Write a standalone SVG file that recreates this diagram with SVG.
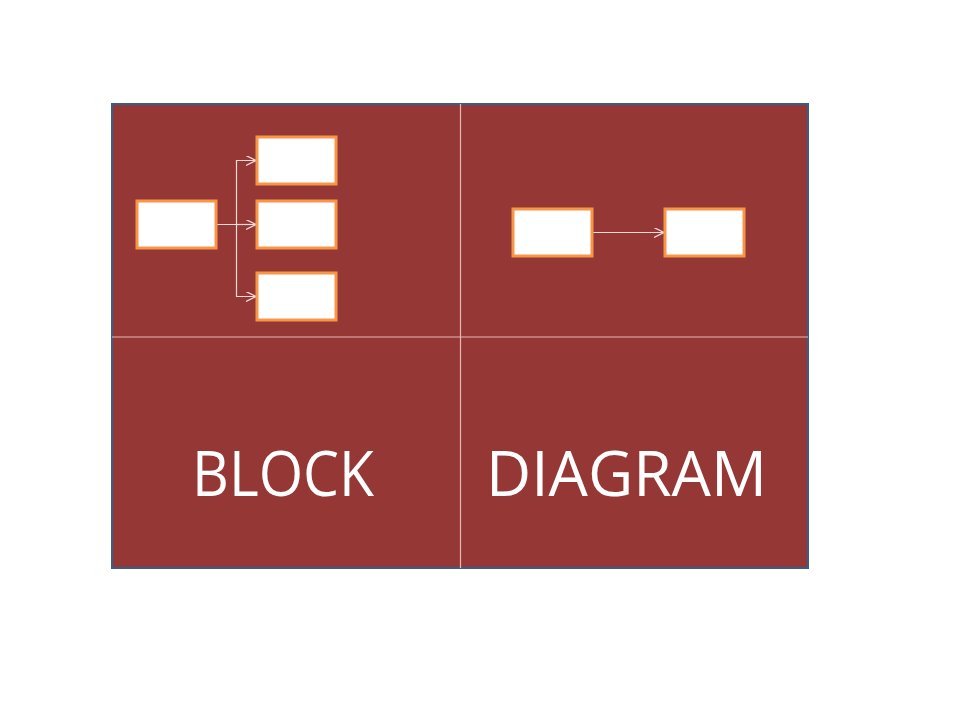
<svg xmlns="http://www.w3.org/2000/svg" width="960" height="720" viewBox="0 0 960 720">
<style>
.box{fill:#FFFFFF;stroke:#F79646;stroke-width:3}
.conn{fill:none;stroke:#F2DCDB;stroke-width:1.2}
.div{stroke:#E6B9B8;stroke-width:1.2}
.lbl{font-family:"Open Sans","Liberation Sans",sans-serif;font-size:63px;fill:#FFFFFF;text-anchor:middle}
</style>
<defs>
<marker id="arr" viewBox="0 0 10 10" refX="10" refY="5" markerWidth="10" markerHeight="10" markerUnits="userSpaceOnUse" orient="auto">
<path d="M0,0 L10,5 L0,10" fill="none" stroke="#F2DCDB" stroke-width="1.2"/>
</marker>
</defs>
<rect width="960" height="720" fill="#FFFFFF"/>
<g id="panel">
<rect x="112" y="104" width="696" height="464" fill="#953735" stroke="#385D8A" stroke-width="2"/>
<line class="div" x1="460.5" y1="104" x2="460.5" y2="568"/>
<line class="div" x1="112" y1="337" x2="808" y2="337"/>
</g>
<g id="connectors">
<path class="conn" d="M217,224.5 H236.5 V160.5 H256" marker-end="url(#arr)"/>
<path class="conn" d="M236.5,224.5 H256" marker-end="url(#arr)"/>
<path class="conn" d="M236.5,224.5 V296.5 H256" marker-end="url(#arr)"/>
<path class="conn" d="M593,232.5 H664" marker-end="url(#arr)"/>
</g>
<g id="n1"><rect class="box" x="137" y="201" width="79" height="47"/></g>
<g id="n2"><rect class="box" x="257" y="137" width="79" height="47"/></g>
<g id="n3"><rect class="box" x="257" y="201" width="79" height="47"/></g>
<g id="n4"><rect class="box" x="257" y="273" width="79" height="47"/></g>
<g id="n5"><rect class="box" x="513" y="209" width="79" height="47"/></g>
<g id="n6"><rect class="box" x="665" y="209" width="79" height="47"/></g>
<g id="labels">
<text class="lbl" x="283" y="496" textLength="182" lengthAdjust="spacingAndGlyphs">BLOCK</text>
<text class="lbl" x="626.5" y="496" textLength="281" lengthAdjust="spacingAndGlyphs">DIAGRAM</text>
</g>
</svg>
